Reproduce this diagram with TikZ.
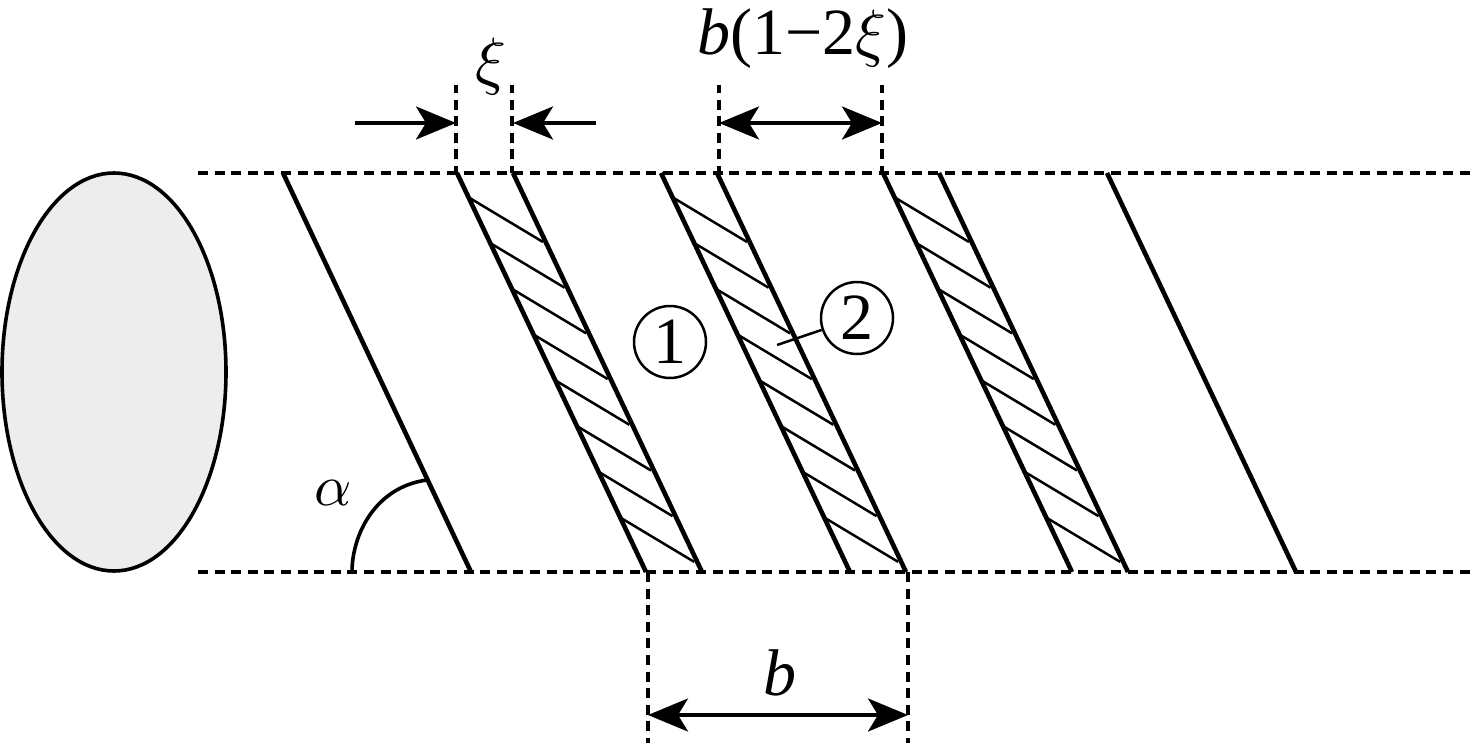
\documentclass[tikz,border=0pt]{standalone}
\usepackage{graphicx}
\usepackage{fontspec}
\setmainfont{Liberation Serif}
\usetikzlibrary{arrows.meta}
\definecolor{crossgray}{HTML}{EDEDED}
\newcommand{\lab}[1]{\fontsize{33}{36}\selectfont #1}
\newcommand{\vlab}[1]{\fontsize{33}{36}\selectfont\textit{#1}}
\newcommand{\mxi}{\scalebox{3.2}{\normalsize$\xi$}}
\newcommand{\malpha}{\scalebox{2.9}{\normalsize$\alpha$}}
\tikzset{
  edgeline/.style={line width=2.3pt},
  hatchline/.style={line width=1.25pt},
  dashline/.style={line width=1.85pt,dash pattern=on 5pt off 3.3pt},
  dimline/.style={line width=1.85pt},
  numcirc/.style={circle,draw=black,line width=1.25pt,minimum size=36pt,inner sep=0pt}
}
\begin{document}
\begin{tikzpicture}[x=.5pt,y=-.5pt,>={Stealth[length=20pt,width=16.5pt,inset=5pt]},every node/.style={inner sep=0pt}]
 \useasboundingbox (0,0) rectangle (1475,743);

 % cross section
 \draw[line width=1.8pt,fill=crossgray] (114,372) ellipse [x radius=112,y radius=199];

 % outline of the cylinder
 \draw[dashline] (198,173) -- (1475,173);
 \draw[dashline] (198,572) -- (1475,572);

 % plain lines
 \draw[edgeline] (283,173) -- (471,572);
 \draw[edgeline] (1107,173) -- (1296,572);

 % strips with their hatching
 \foreach \xs in {457,661,883} {
   \draw[edgeline] (\xs,173) -- ({\xs+189},572);
   \draw[edgeline] ({\xs+56},173) -- ({\xs+245},572);
   \foreach \i in {0,...,7} {
     \draw[hatchline] ({\xs+11+\i*21.6},{197+\i*45.7}) -- ({\xs+86+\i*21.6},{242+\i*45.7});
   }
 }

 % extension lines
 \foreach \xs in {456,512,719,882} {
   \draw[dashline,dash phase=1pt] (\xs,85) -- (\xs,173);
 }
 \foreach \xs in {648,908} {
   \draw[dashline] (\xs,572) -- (\xs,743);
 }

 % dimensions
 \coordinate (XiL) at (456,123);
 \coordinate (XiR) at (513,123);
 \coordinate (XiLo) at (355,123);
 \coordinate (XiRo) at (596,123);
 \coordinate (WidL) at (719,123);
 \coordinate (WidR) at (882,123);
 \coordinate (PerL) at (648,715);
 \coordinate (PerR) at (908,715);
 \draw[dimline,->] (XiLo) -- (XiL);
 \draw[dimline,->] (XiRo) -- (XiR);
 \draw[dimline,<->] (WidL) -- (WidR);
 \draw[dimline,<->] (PerL) -- (PerR);

 % angle
 \draw[line width=1.8pt] (352,572) .. controls (352,535) and (375,487) .. (427,480);

 % labels
 \node[anchor=base] (Xi) at (491,83) {\mxi};
 \node[anchor=base] (Wid) at (803,55) {\lab{\textit{b}(1−2\mxi)}};
 \node[anchor=base] (Per) at (780,695) {\vlab{b}};
 \node[anchor=base] (Ang) at (333,505) {\malpha};

 % numbered circles
 \node[numcirc] (One) at (670,342) {\lab{1}};
 \node[numcirc] (Two) at (857,318) {\lab{2}};
 \coordinate (Lead) at (777,345);
 \draw[hatchline] (Two) -- (Lead);

\end{tikzpicture}
\end{document}
